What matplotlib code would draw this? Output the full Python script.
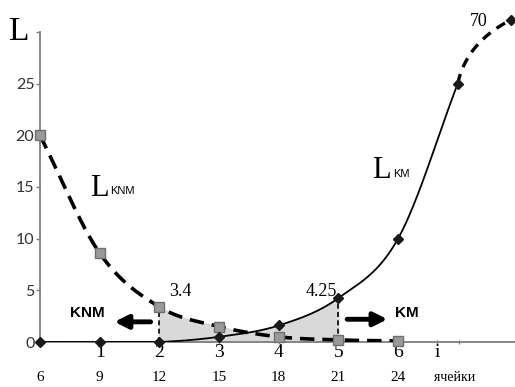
import numpy as np
import matplotlib
matplotlib.use("Agg")
import matplotlib.pyplot as plt

# === DATA ===

cells = [0, 1, 2, 3, 4, 5, 6, 7]
l_km = [0, 0, 0, 0.5, 1.6, 4.25, 10, 25]
l_knm = [20, 8.6, 3.4, 1.5, 0.5, 0.2, 0.1]
top_labels = ["1", "2", "3", "4", "5", "6"]
bottom_labels = ["6", "9", "12", "15", "18", "21", "24"]
y_ticks = [0, 5, 10, 15, 20, 25]
km_last_label = "70"

SERIF = "Liberation Serif"
SANS = "Liberation Sans"


def smooth(xs, ys, n=40):
    """Catmull-Rom path through the points, used only to draw the curve."""
    pts = np.column_stack([xs, ys]).astype(float)
    p = np.vstack([2 * pts[0] - pts[1], pts, 2 * pts[-1] - pts[-2]])
    t = np.linspace(0, 1, n, endpoint=False)[:, None]
    out = []
    for i in range(1, len(p) - 2):
        p0, p1, p2, p3 = p[i - 1], p[i], p[i + 1], p[i + 2]
        seg = 0.5 * (2 * p1 + (-p0 + p2) * t
                     + (2 * p0 - 5 * p1 + 4 * p2 - p3) * t ** 2
                     + (-p0 + 3 * p1 - 3 * p2 + p3) * t ** 3)
        out.append(seg)
    out.append(pts[-1:])
    return np.vstack(out)


fig = plt.figure(figsize=(5.15, 3.87), dpi=100)
ax = fig.add_axes([40 / 515, 45 / 387, 475 / 515, 310 / 387])
ax.set_xlim(0, 7.96)
ax.set_ylim(0, 30)

km_curve = smooth(cells, l_km)
knm_curve = smooth(cells[:len(l_knm)], l_knm)

# shaded overlap zone between cells 2 and 5
n_knm = len(knm_curve)
gx = km_curve[:n_knm, 0]
upper = np.maximum(np.clip(km_curve[:n_knm, 1], 0, None), knm_curve[:, 1])
zone = (gx >= 2) & (gx <= 5)
ax.fill_between(gx[zone], 0, upper[zone], color="#d9d9d9", zorder=1)

ax.plot(knm_curve[:, 0], knm_curve[:, 1], color="black", lw=2.6,
        dashes=(4, 2.2), zorder=3)
ax.plot(km_curve[:, 0], np.clip(km_curve[:, 1], 0, None), color="black",
        lw=1.3, zorder=3)
ax.plot(cells[:len(l_knm)], l_knm, ls="none", marker="s", ms=6.5,
        mfc="#9a9a9a", mec="#6f6f6f", mew=1, zorder=4, clip_on=False)
ax.plot(cells, l_km, ls="none", marker="D", ms=5, color="#1a1a1a",
        zorder=5, clip_on=False)

# broken-scale tail to the value 70 (bent dashed stroke)
tail_end = (7.9, 31.2)
tail_ctrl = (7.15, 29.0)
tt = np.linspace(0, 1, 30)
tail_x = (1 - tt) ** 2 * cells[-1] + 2 * (1 - tt) * tt * tail_ctrl[0] + tt ** 2 * tail_end[0]
tail_y = (1 - tt) ** 2 * l_km[-1] + 2 * (1 - tt) * tt * tail_ctrl[1] + tt ** 2 * tail_end[1]
ax.plot(tail_x, tail_y, color="black", lw=2.4, dashes=(3, 2.2), zorder=3,
        clip_on=False)
ax.plot([tail_end[0]], [tail_end[1]], marker="D", ms=5, color="#1a1a1a",
        clip_on=False)
ax.text(7.35, 31.0, km_last_label, fontsize=13, family=SERIF,
        ha="center", va="center")

# cut lines
ax.plot([2, 2], [0, l_knm[2]], color="black", lw=1.2, dashes=(3, 2), zorder=3)
ax.plot([5, 5], [0, l_km[5]], color="black", lw=1.2, dashes=(3, 2), zorder=3)
ax.text(2.35, 4.9, "3.4", fontsize=13, family=SERIF, ha="center", va="center")
ax.text(4.72, 4.9, "4.25", fontsize=13, family=SERIF, ha="center", va="center")

# region arrows
ax.annotate("", xy=(1.2, 1.95), xytext=(1.9, 1.95),
            arrowprops=dict(arrowstyle="-|>", lw=3.5, color="black",
                            mutation_scale=20))
ax.text(0.8, 2.8, "KNM", fontsize=11, family=SANS, weight="bold",
        ha="center", va="center")
ax.annotate("", xy=(5.87, 2.2), xytext=(5.1, 2.2),
            arrowprops=dict(arrowstyle="-|>", lw=3.5, color="black",
                            mutation_scale=20))
ax.text(6.15, 2.8, "KM", fontsize=11, family=SANS, weight="bold",
        ha="center", va="center")

# curve labels
ax.text(1.0, 14.9, "L", fontsize=22, family=SERIF, ha="center", va="center")
ax.text(1.38, 14.6, "KNM", fontsize=8, family=SANS, ha="center", va="center")
ax.text(5.72, 16.6, "L", fontsize=22, family=SERIF, ha="center", va="center")
ax.text(6.05, 16.3, "KM", fontsize=8, family=SANS, ha="center", va="center")

# axes styling
for side in ("top", "right"):
    ax.spines[side].set_visible(False)
for side in ("left", "bottom"):
    ax.spines[side].set_color("#7f7f7f")
    ax.spines[side].set_linewidth(1.3)

ax.set_yticks(y_ticks + [30])
ax.set_yticklabels([str(v) for v in y_ticks] + [""], family="Lato",
                   fontsize=11.5, color="#333333")
ax.tick_params(axis="y", length=3, width=1, color="#7f7f7f", pad=1)

ax.set_xticks([1, 2, 3, 4, 5, 6, 6.65, 7.02])
ax.set_xticklabels(top_labels + ["i", ""], family=SERIF, fontsize=14)
ax.tick_params(axis="x", length=3, width=1, color="#7f7f7f", pad=0,
               direction="inout")

for i, lab in enumerate(bottom_labels):
    ax.text(i, -0.115, lab, transform=ax.get_xaxis_transform(),
            family=SERIF, fontsize=11, ha="center", va="center")
ax.text(6.95, -0.115, "ячейки", transform=ax.get_xaxis_transform(),
        family=SERIF, fontsize=10, ha="center", va="center")

fig.text(19 / 515, 1 - 32 / 387, "L", fontsize=24, family=SERIF,
         ha="center", va="center")

fig.savefig("out.png", dpi=100)
